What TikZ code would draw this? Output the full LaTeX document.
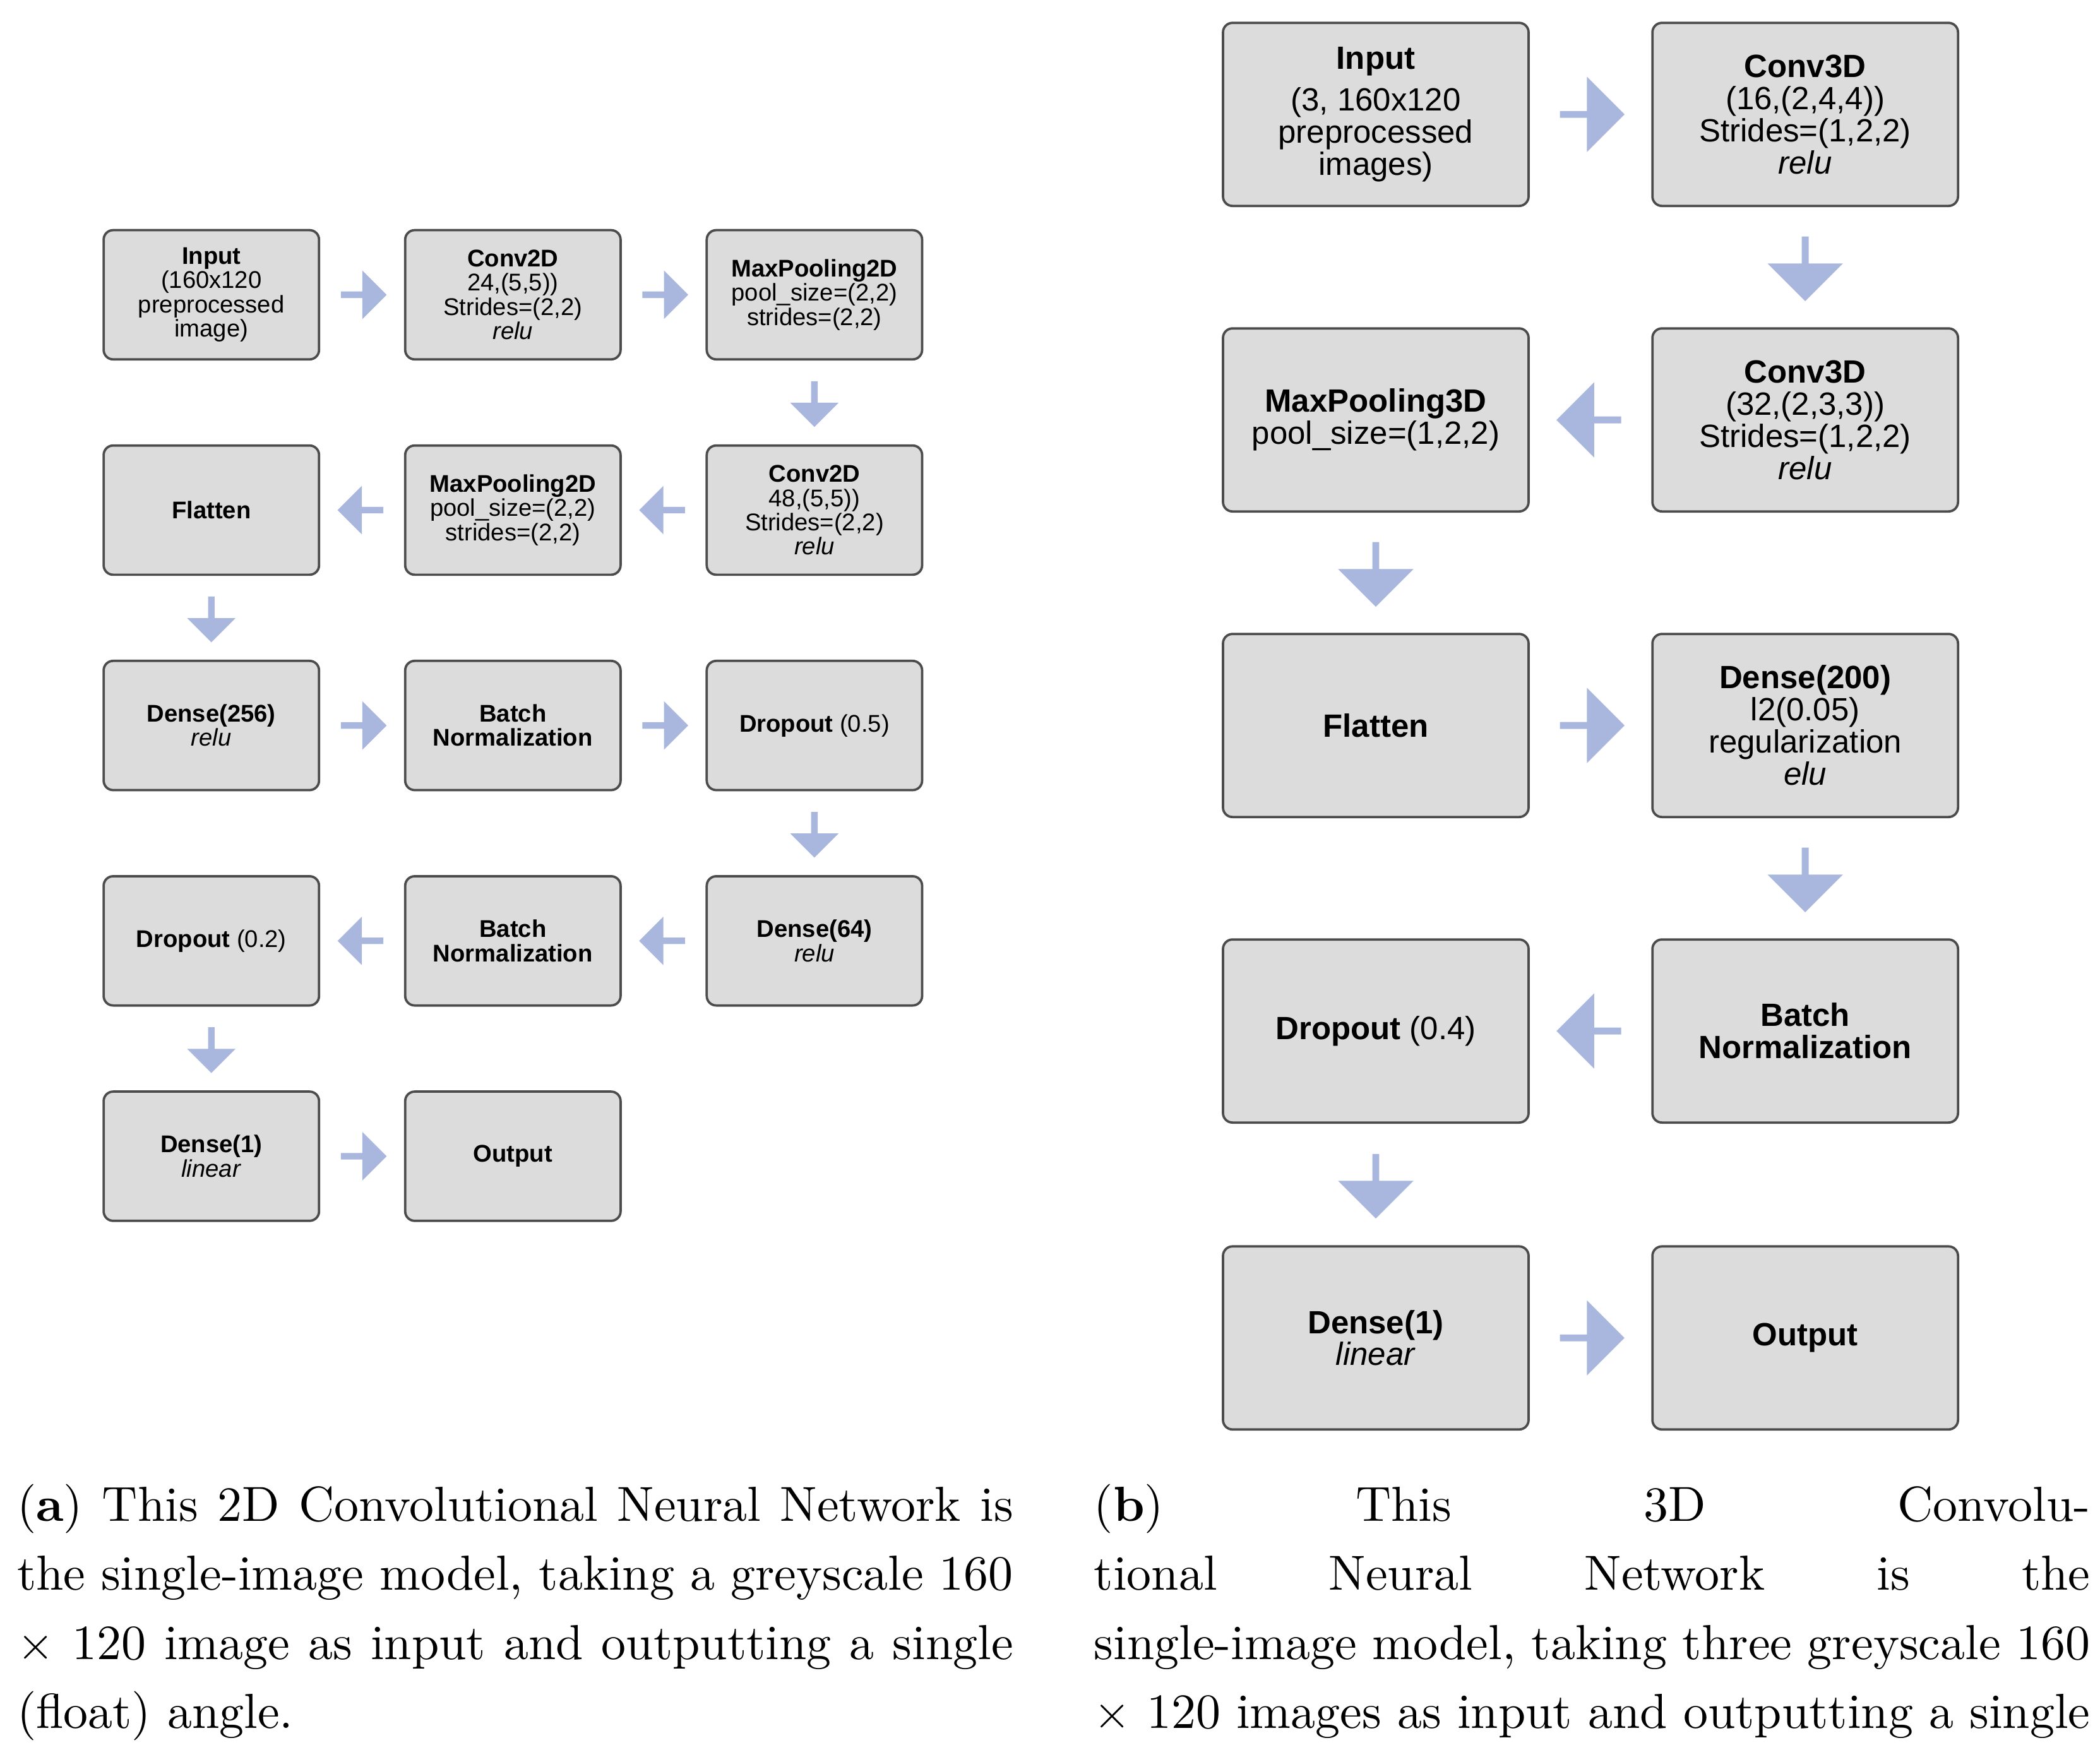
\documentclass[tikz,border=0pt]{standalone}
\usepackage{fontspec}
\setmainfont{Latin Modern Roman}
\newfontfamily\boxfont{Liberation Sans}
\usetikzlibrary{shapes.arrows,calc}
\definecolor{boxgray}{HTML}{DCDCDC}
\definecolor{arrowblue}{HTML}{A9B7DE}

\begin{document}
\begin{tikzpicture}

\def\colA{1.57}
\def\colB{3.81}
\def\colC{6.05}
\def\colD{10.22}
\def\colE{13.41}

\tikzstyle{smallbox}=[rectangle,draw=black!70,line width=0.5pt,fill=boxgray,rounded corners=2pt,minimum width=1.6cm,minimum height=0.96cm,inner sep=0pt,align=center,font=\boxfont\fontsize{5.1}{5.1}\selectfont]
\tikzstyle{bigbox}=[smallbox,minimum width=2.27cm,minimum height=1.36cm,font=\boxfont\fontsize{6.8}{6.8}\selectfont]
\tikzstyle{smallarrow}=[single arrow,fill=arrowblue,draw=none,inner sep=0pt,minimum height=0.34cm,minimum width=0.36cm,single arrow head extend=0.045cm]
\tikzstyle{bigarrow}=[smallarrow,minimum height=0.48cm,minimum width=0.56cm,single arrow head extend=0.07cm]
\tikzstyle{caption}=[anchor=north west,text width=7.4cm,align=justify,inner sep=0pt,font=\fontsize{10.4}{14.6}\selectfont]

\useasboundingbox (0,0) rectangle (15.6,-13.0);

%2D network
\node[smallbox] (in2) at (\colA,-2.19) {\textbf{Input}\\(160x120\\preprocessed\\image)};
\node[smallbox] (c2a) at (\colB,-2.19) {\textbf{Conv2D}\\24,(5,5))\\Strides=(2,2)\\\textit{relu}};
\node[smallbox] (mp2a) at (\colC,-2.19) {\textbf{MaxPooling2D}\\pool\_size=(2,2)\\strides=(2,2)};
\node[smallbox] (c2b) at (\colC,-3.79) {\textbf{Conv2D}\\48,(5,5))\\Strides=(2,2)\\\textit{relu}};
\node[smallbox] (mp2b) at (\colB,-3.79) {\textbf{MaxPooling2D}\\pool\_size=(2,2)\\strides=(2,2)};
\node[smallbox] (fl2) at (\colA,-3.79) {\textbf{Flatten}};
\node[smallbox] (d2a) at (\colA,-5.39) {\textbf{Dense(256)}\\\textit{relu}};
\node[smallbox] (bn2a) at (\colB,-5.39) {\textbf{Batch}\\\textbf{Normalization}};
\node[smallbox] (do2a) at (\colC,-5.39) {\textbf{Dropout} (0.5)};
\node[smallbox] (d2b) at (\colC,-6.99) {\textbf{Dense(64)}\\\textit{relu}};
\node[smallbox] (bn2b) at (\colB,-6.99) {\textbf{Batch}\\\textbf{Normalization}};
\node[smallbox] (do2b) at (\colA,-6.99) {\textbf{Dropout} (0.2)};
\node[smallbox] (d2c) at (\colA,-8.59) {\textbf{Dense(1)}\\\textit{linear}};
\node[smallbox] (out2) at (\colB,-8.59) {\textbf{Output}};

\node[smallarrow] (a2a) at ($(in2)!0.5!(c2a)$) {};
\node[smallarrow] (a2b) at ($(c2a)!0.5!(mp2a)$) {};
\node[smallarrow,shape border rotate=270] (a2c) at ($(mp2a)!0.5!(c2b)$) {};
\node[smallarrow,shape border rotate=180] (a2d) at ($(c2b)!0.5!(mp2b)$) {};
\node[smallarrow,shape border rotate=180] (a2e) at ($(mp2b)!0.5!(fl2)$) {};
\node[smallarrow,shape border rotate=270] (a2f) at ($(fl2)!0.5!(d2a)$) {};
\node[smallarrow] (a2g) at ($(d2a)!0.5!(bn2a)$) {};
\node[smallarrow] (a2h) at ($(bn2a)!0.5!(do2a)$) {};
\node[smallarrow,shape border rotate=270] (a2i) at ($(do2a)!0.5!(d2b)$) {};
\node[smallarrow,shape border rotate=180] (a2j) at ($(d2b)!0.5!(bn2b)$) {};
\node[smallarrow,shape border rotate=180] (a2k) at ($(bn2b)!0.5!(do2b)$) {};
\node[smallarrow,shape border rotate=270] (a2l) at ($(do2b)!0.5!(d2c)$) {};
\node[smallarrow] (a2m) at ($(d2c)!0.5!(out2)$) {};

%3D network
\node[bigbox] (in3) at (\colD,-0.85) {\textbf{Input}\\[2pt](3, 160x120\\preprocessed\\images)};
\node[bigbox] (c3a) at (\colE,-0.85) {\textbf{Conv3D}\\(16,(2,4,4))\\Strides=(1,2,2)\\\textit{relu}};
\node[bigbox] (c3b) at (\colE,-3.12) {\textbf{Conv3D}\\(32,(2,3,3))\\Strides=(1,2,2)\\\textit{relu}};
\node[bigbox] (mp3) at (\colD,-3.12) {\textbf{MaxPooling3D}\\pool\_size=(1,2,2)};
\node[bigbox] (fl3) at (\colD,-5.39) {\textbf{Flatten}};
\node[bigbox] (d3a) at (\colE,-5.39) {\textbf{Dense(200)}\\l2(0.05)\\regularization\\\textit{elu}};
\node[bigbox] (bn3) at (\colE,-7.66) {\textbf{Batch}\\\textbf{Normalization}};
\node[bigbox] (do3) at (\colD,-7.66) {\textbf{Dropout} (0.4)};
\node[bigbox] (d3b) at (\colD,-9.94) {\textbf{Dense(1)}\\\textit{linear}};
\node[bigbox] (out3) at (\colE,-9.94) {\textbf{Output}};

\node[bigarrow] (a3a) at ($(in3)!0.5!(c3a)$) {};
\node[bigarrow,shape border rotate=270] (a3b) at ($(c3a)!0.5!(c3b)$) {};
\node[bigarrow,shape border rotate=180] (a3c) at ($(c3b)!0.5!(mp3)$) {};
\node[bigarrow,shape border rotate=270] (a3d) at ($(mp3)!0.5!(fl3)$) {};
\node[bigarrow] (a3e) at ($(fl3)!0.5!(d3a)$) {};
\node[bigarrow,shape border rotate=270] (a3f) at ($(d3a)!0.5!(bn3)$) {};
\node[bigarrow,shape border rotate=180] (a3g) at ($(bn3)!0.5!(do3)$) {};
\node[bigarrow,shape border rotate=270] (a3h) at ($(do3)!0.5!(d3b)$) {};
\node[bigarrow] (a3i) at ($(d3b)!0.5!(out3)$) {};

%captions
\node[caption] (capa) at (0.12,-11.02) {\hyphenpenalty=10000\relax(\textbf{a}) This 2D Convolutional Neural Network is\linebreak the single-image model, taking a greyscale 160\linebreak $\times$ 120 image as input and outputting a single\linebreak (float) angle.};
\node[caption] (capb) at (8.12,-11.02) {\hyphenpenalty=10000\relax(\textbf{b}) This 3D Convolutional Neural Network is the\linebreak single-image model, taking three greyscale 160\linebreak $\times$ 120 images as input and outputting a single\linebreak (float) angle.};

\end{tikzpicture}
\end{document}
